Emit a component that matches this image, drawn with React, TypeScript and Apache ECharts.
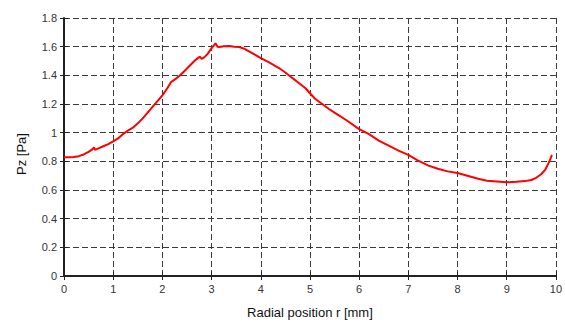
import React, { useEffect, useRef } from "react";
import * as echarts from "echarts";

const radius: number[] = [0, 0.1, 0.2, 0.3, 0.4, 0.5, 0.58, 0.61, 0.63, 0.7, 0.8, 0.9, 1.0, 1.1, 1.2, 1.3, 1.4, 1.5, 1.6, 1.7, 1.8, 1.9, 2.0, 2.1, 2.18, 2.25, 2.35, 2.45, 2.55, 2.65, 2.72, 2.76, 2.8, 2.85, 2.92, 3.0, 3.05, 3.08, 3.12, 3.16, 3.25, 3.36, 3.46, 3.56, 3.67, 3.77, 3.88, 4.0, 4.17, 4.37, 4.5, 4.64, 4.8, 4.91, 5.0, 5.11, 5.25, 5.38, 5.5, 5.75, 6.0, 6.2, 6.4, 6.6, 6.8, 7.0, 7.2, 7.41, 7.6, 7.8, 8.0, 8.2, 8.42, 8.6, 8.8, 9.0, 9.2, 9.37, 9.5, 9.6, 9.7, 9.78, 9.84, 9.88, 9.92];
const pz: number[] = [0.828, 0.828, 0.83, 0.836, 0.848, 0.866, 0.885, 0.898, 0.88, 0.89, 0.905, 0.92, 0.94, 0.96, 0.99, 1.015, 1.035, 1.065, 1.1, 1.14, 1.18, 1.22, 1.26, 1.31, 1.355, 1.37, 1.397, 1.43, 1.465, 1.5, 1.52, 1.53, 1.515, 1.525, 1.55, 1.59, 1.61, 1.624, 1.6, 1.597, 1.603, 1.605, 1.6, 1.597, 1.585, 1.566, 1.545, 1.52, 1.49, 1.451, 1.42, 1.382, 1.34, 1.31, 1.275, 1.235, 1.2, 1.167, 1.14, 1.085, 1.025, 0.99, 0.945, 0.91, 0.875, 0.845, 0.805, 0.77, 0.748, 0.73, 0.718, 0.7, 0.678, 0.665, 0.66, 0.654, 0.658, 0.662, 0.67, 0.685, 0.71, 0.74, 0.78, 0.81, 0.845];

const xName = "Radial position r [mm]";
const yName = "Pz [Pa]";

export default function App() {
  const ref = useRef<HTMLDivElement>(null);
  useEffect(() => {
    if (!ref.current) return;
    const chart = echarts.init(ref.current, undefined, { renderer: "svg" });
    const font = "'Liberation Sans', Arial, sans-serif";
    const grid = { color: "#3a3a3a", type: [6, 3], width: 1 };
    chart.setOption({
      animation: false,
      backgroundColor: "#fff",
      textStyle: { fontFamily: font },
      grid: { left: 64, right: 7, top: 18, bottom: 44, containLabel: false },
      xAxis: [
        {
          type: "value",
          min: 0,
          max: 10,
          interval: 1,
          position: "bottom",
          name: xName,
          nameLocation: "middle",
          nameGap: 30,
          nameTextStyle: { fontSize: 13, color: "#111", fontFamily: font },
          axisLine: { show: true, onZero: false, lineStyle: { color: "#222", width: 2 } },
          axisTick: { show: true, length: 4, lineStyle: { color: "#222" } },
          axisLabel: { fontSize: 11, color: "#333", margin: 7, fontFamily: font },
          splitLine: { show: true, lineStyle: grid },
        },
        {
          type: "value",
          min: 0,
          max: 10,
          interval: 1,
          position: "bottom",
          axisLine: { show: false },
          axisTick: { show: true, inside: true, length: 4, lineStyle: { color: "#222" } },
          axisLabel: { show: false },
          splitLine: { show: false },
        },
      ],
      yAxis: [
        {
          type: "value",
          min: 0,
          max: 1.8,
          interval: 0.2,
          position: "left",
          name: yName,
          nameLocation: "middle",
          nameGap: 36,
          nameTextStyle: { fontSize: 13, color: "#111", fontFamily: font, padding: [0, 14, 0, 0] },
          axisLine: { show: true, onZero: false, lineStyle: { color: "#222", width: 2 } },
          axisTick: { show: true, length: 4, lineStyle: { color: "#222" } },
          axisLabel: { fontSize: 11, color: "#333", margin: 7, fontFamily: font },
          splitLine: { show: true, lineStyle: grid },
        },
        {
          type: "value",
          min: 0,
          max: 1.8,
          interval: 0.2,
          position: "left",
          axisLine: { show: false },
          axisTick: { show: true, inside: true, length: 4, lineStyle: { color: "#222" } },
          axisLabel: { show: false },
          splitLine: { show: false },
        },
      ],
      series: [
        {
          type: "line",
          xAxisIndex: 0,
          yAxisIndex: 0,
          data: radius.map((r, i) => [r, pz[i]]),
          showSymbol: false,
          smooth: false,
          lineStyle: { color: "#ff0000", width: 2 },
          itemStyle: { color: "#ff0000" },
        },
      ],
    });
    return () => chart.dispose();
  }, []);
  return <div ref={ref} style={{ width: 565, height: 324, position: "absolute", left: 0, top: 0 }} />;
}
